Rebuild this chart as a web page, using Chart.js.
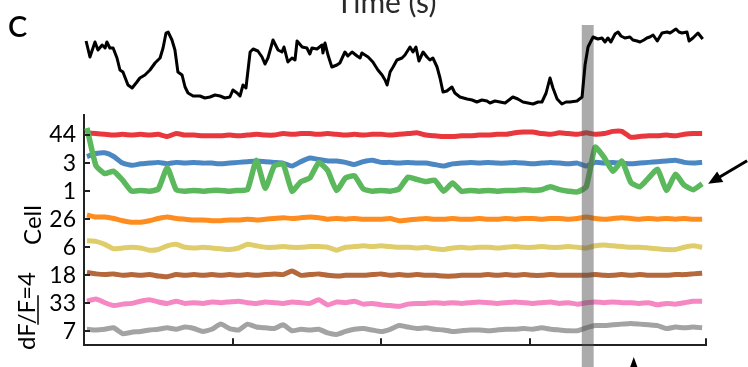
<!DOCTYPE html>
<html>
<head>
<meta charset="utf-8">
<script src="https://cdn.jsdelivr.net/npm/chart.js@4.4.1/dist/chart.umd.min.js"></script>
<style>
  html, body { margin: 0; padding: 0; background: #fff; }
  #wrap { position: relative; width: 748px; height: 367px; overflow: hidden; font-family: Lato, "Open Sans", sans-serif; }
  canvas { position: absolute; left: 0; top: 0; }
  .lbl { position: absolute; white-space: nowrap; line-height: 1; color: #000; }
  #panel { left: 8px; top: 11px; font-size: 29px; font-weight: 600; }
  #xtitle { left: 386px; top: -14px; font-size: 30px; color: #2a2a2a; transform: translateX(-50%); }
  #ytitle { left: 32px; top: 225px; font-size: 24px; transform: translate(-50%, -50%) rotate(-90deg); }
  #scaletxt { left: 26px; top: 311px; font-size: 24px; transform: translate(-50%, -50%) rotate(-90deg); }
</style>
</head>
<body>
<div id="wrap">
  <canvas id="cells" width="748" height="367"></canvas>
  <canvas id="speed" width="748" height="367"></canvas>
  <div class="lbl" id="panel">C</div>
  <div class="lbl" id="xtitle">Time (s)</div>
  <div class="lbl" id="ytitle">Cell</div>
  <div class="lbl" id="scaletxt">dF/F=4</div>
</div>
<script>
'use strict';

// top trace: sample times (s) and running speed (arbitrary units)
var speedTime = [0.7,2.0,3.7,4.7,6.1,7.1,7.7,8.7,9.8,11.1,12.1,13.1,14.8,16.2,17.8,18.8,20.5,22.2,23.9,25.6,
  26.6,27.6,28.3,29.6,30.6,31.6,33.0,34.0,35.0,36.7,39.0,40.7,42.4,44.1,45.8,47.4,49.1,50.1,51.5,52.5,
  53.5,54.5,55.9,56.9,58.5,59.9,60.9,61.9,63.6,65.3,66.6,67.3,68.6,70.0,71.0,71.7,73.4,75.0,76.0,76.7,
  78.4,80.1,80.4,81.1,82.1,83.4,85.1,86.1,87.8,88.8,90.2,91.9,92.9,93.5,95.6,97.2,98.9,100.3,101.3,102.0,
  103.0,104.0,105.3,107.0,108.0,109.7,110.7,111.7,112.7,114.1,115.4,116.4,117.4,118.8,119.8,120.8,122.1,123.8,124.8,126.5,
  128.9,130.6,132.2,133.9,135.6,136.6,138.3,140.0,141.7,144.3,146.0,147.7,149.4,151.1,152.8,154.1,155.5,156.8,157.8,159.2,
  160.8,162.2,163.5,165.9,167.6,168.6,169.6,171.3,172.9,174.3,175.3,176.3,177.3,178.7,179.7,180.7,182.0,183.7,184.7,186.1,
  187.1,188.4,189.4,190.4,191.5,192.9,194.5,196.2,197.2,198.2,199.2,200.2,201.2,202.9,203.6,204.9,206.6,208.2];
var speed = [69,53,68,60,65,62,68,62,62,52,40,38,25,22,28,32,35,40,47,52,
  62,77,78,70,60,38,35,23,17,14,14,12,13,15,14,12,13,20,17,14,
  25,22,58,61,59,53,46,52,70,60,58,63,48,52,50,69,63,62,56,62,
  61,65,57,67,55,43,45,47,58,54,58,54,52,57,53,48,40,35,30,25,
  38,43,50,52,55,63,58,63,49,58,53,50,52,43,32,18,19,23,17,13,
  11,10,8,10,9,7,9,8,7,13,11,8,7,6,8,8,17,32,22,11,
  6,8,8,9,13,45,63,73,71,72,68,72,68,76,78,74,72,73,70,69,
  68,70,72,73,75,69,77,78,77,79,81,78,77,78,69,72,77,71];

// cell traces: sample times (s)
var time = [1,4,7,10,13,16,19,22,25,28,31,34,37,40,43,46,49,52,55,58,
  61,64,67,70,73,76,79,82,85,88,91,94,97,100,103,106,109,112,115,118,
  121,124,127,130,133,136,139,142,145,148,151,154,157,160,163,166,169,172,175,178,
  181,184,187,190,193,196,199,202,205,208];

// dF/F per cell
var cell44 = [0.3,0.2,0.1,0.0,0.1,0.0,0.1,0.0,0.1,-0.2, 0.2,0.0,0.0,-0.1,-0.1,-0.1,0.0,-0.1,0.0,0.1,
  0.0,0.0,0.2,0.1,0.2,0.2,0.1,0.2,0.1,0.0, 0.1,0.0,0.1,0.1,0.0,0.1,0.2,0.3,0.0,-0.1,
  -0.2,-0.2,-0.1,-0.1,0.0,0.0,0.1,0.1,0.3,0.4, 0.4,0.2,0.1,0.3,0.2,0.1,0.3,0.1,0.2,0.5,
  0.5,-0.3,-0.2,-0.1,-0.1,0.0,-0.1,0.1,0.2,0.2];
var cell3 = [0.9,1.3,1.4,0.9,0.0,-0.3,-0.1,0.0,0.1,-0.1, 0.1,0.0,0.1,0.0,0.0,-0.1,0.0,0.1,0.2,0.3,
  0.2,0.1,0.0,-0.4,0.2,0.7,0.5,0.3,0.3,0.1, -0.2,0.2,0.4,0.1,0.1,0.0,0.1,0.0,0.0,-0.2,
  -0.4,-0.1,0.0,0.1,0.0,0.1,0.0,0.0,0.1,0.0, -0.1,0.0,0.1,0.0,-0.1,0.0,-0.4,0.1,0.0,0.1,
  0.0,-0.1,0.0,0.1,0.2,0.3,0.4,0.1,0.0,0.1];
var cell1 = [8.6,3.5,2.4,2.7,1.5,0.0,0.1,0.0,0.3,3.2, 0.2,0.0,0.1,0.0,0.1,0.1,0.0,0.1,0.2,4.2,
  0.4,3.4,3.7,0.0,1.3,1.8,3.9,2.8,0.1,1.8, 2.1,0.3,0.0,0.1,0.0,0.3,1.9,1.6,1.3,1.5,
  0.0,1.1,0.0,0.1,0.0,0.1,0.0,0.1,0.1,0.2, 0.1,0.2,0.6,0.2,0.0,-0.1,0.6,6.0,4.6,2.7,
  4.1,1.2,0.6,1.8,3.0,0.1,2.3,0.8,0.2,1.0];
var cell26 = [0.6,0.3,0.3,0.1,-0.2,-0.4,-0.4,-0.2,0.1,0.3, 0.1,0.0,-0.1,-0.1,-0.2,-0.2,-0.1,-0.1,0.0,-0.1,
  0.0,0.1,0.2,0.1,0.2,0.3,0.2,0.0,0.1,0.0, 0.1,0.0,0.0,0.0,0.1,-0.2,-0.1,0.0,0.1,0.0,
  0.0,0.1,0.0,0.0,0.1,0.0,0.0,0.1,0.0,0.1, 0.1,0.0,0.1,0.1,0.0,0.1,0.3,0.1,0.0,0.1,
  0.2,0.1,0.0,0.1,0.0,0.1,0.0,0.1,0.0,0.0];
var cell6 = [0.9,0.8,0.4,-0.2,-0.1,0.0,-0.1,-0.4,-0.3,0.2, 0.4,0.0,-0.1,0.0,-0.1,-0.2,-0.3,-0.1,0.4,0.2,
  0.0,0.0,0.1,0.0,0.0,0.1,0.1,0.0,-0.4,0.0, 0.1,0.2,0.1,0.2,0.1,0.0,0.0,-0.1,0.0,-0.2,
  -0.3,-0.1,0.0,-0.1,0.0,0.0,-0.1,0.0,0.1,0.0, 0.0,0.1,0.0,0.0,0.1,0.0,-0.1,0.2,0.3,0.2,
  0.1,0.0,0.0,-0.1,-0.2,-0.3,-0.3,0.0,0.2,0.0];
var cell18 = [0.4,0.2,0.1,0.2,0.0,0.1,0.0,0.1,-0.1,-0.2, 0.1,0.0,0.1,0.0,0.1,0.0,0.1,0.0,0.1,0.0,
  0.1,0.2,0.1,0.6,0.0,0.1,0.2,0.0,-0.1,0.0, 0.0,0.0,0.1,0.2,0.0,0.1,0.0,0.1,0.0,0.0,
  -0.1,-0.1,0.0,0.0,0.0,0.1,0.0,0.1,0.0,0.1, 0.0,0.0,0.1,0.0,0.0,0.0,0.0,0.1,0.0,0.0,
  0.1,0.0,0.1,0.0,0.0,0.0,0.1,0.1,0.2,0.3];
var cell33 = [0.3,0.6,0.1,-0.3,-0.1,0.0,0.3,0.5,0.2,0.0, 0.3,0.0,0.1,0.0,0.2,0.1,0.2,0.3,0.1,0.0,
  0.2,0.1,0.0,0.2,0.1,0.0,0.5,-0.2,0.2,0.1, 0.3,-0.1,0.0,-0.2,-0.3,-0.4,-0.1,0.0,0.0,0.1,
  0.0,0.1,0.0,0.1,0.2,0.1,0.0,0.1,0.2,0.1, 0.0,0.1,0.2,0.0,0.1,-0.1,0.1,0.2,0.1,0.2,
  0.1,0.1,0.0,0.1,-0.2,0.0,-0.1,0.1,0.3,0.3];
var cell7 = [0.3,0.2,0.3,0.5,-0.3,-0.1,0.0,0.2,0.3,0.5, 0.3,0.6,0.4,0.0,0.3,1.0,0.4,0.2,1.0,0.6,
  0.5,0.4,0.9,0.1,0.3,0.2,0.3,-0.2,-0.4,0.0, 0.3,0.4,0.2,0.0,0.3,0.8,0.6,0.4,0.5,0.3,
  0.2,0.0,0.1,0.2,0.2,0.1,0.2,0.3,0.3,0.4, 0.3,0.5,0.3,0.2,0.1,0.1,0.5,0.8,0.8,0.9,
  1.0,1.1,1.0,0.9,0.8,0.4,0.6,0.5,0.6,0.5];

// cells, top to bottom
var cellIds = ['44', '3', '1', '26', '6', '18', '33', '7'];
var traces = [cell44, cell3, cell1, cell26, cell6, cell18, cell33, cell7];
var colors = ['#e8383d', '#4b88c3', '#5cb85c', '#ff8c1f', '#dfcd6b', '#b5683c', '#f587c3', '#a3a3a3'];
var traceGap = 3.82;      // vertical spacing between cells, in dF/F
var bandStart = 167.5, bandEnd = 171.5;   // stimulus window (s)
var arrowAt = 185;        // time marked by the bottom arrow
var tMax = 209.3;

// make the top trace
new Chart(document.getElementById('speed').getContext('2d'), {
  type: 'line',
  data: {
    datasets: [{
      data: speedTime.map(function (t, i) { return { x: t, y: speed[i] }; }),
      borderColor: '#000',
      borderWidth: 3,
      pointRadius: 0,
      tension: 0,
      borderJoinStyle: 'round'
    }]
  },
  options: {
    responsive: false,
    animation: false,
    devicePixelRatio: 1,
    layout: { autoPadding: false, padding: { left: 84, right: 42, top: 25, bottom: 257 } },
    plugins: { legend: { display: false }, tooltip: { enabled: false } },
    scales: {
      x: { type: 'linear', display: false, min: 0, max: tMax },
      y: { display: false, min: 0, max: 85 }
    }
  }
});

// band, inward ticks, scale bar and arrows
var decor = {
  id: 'decor',
  afterDatasetsDraw: function (chart) {
    var ctx = chart.ctx, x = chart.scales.x;
    var x0 = x.getPixelForValue(bandStart), x1 = x.getPixelForValue(bandEnd);
    ctx.save();
    ctx.fillStyle = 'rgba(80,80,80,0.48)';
    ctx.fillRect(x0, 25, x1 - x0, chart.height - 25);
    ctx.restore();
  },
  afterDraw: function (chart) {
    var ctx = chart.ctx, x = chart.scales.x, y = chart.scales.y;
    ctx.save();
    ctx.strokeStyle = '#222';
    ctx.lineWidth = 2;
    ctx.beginPath();
    y.ticks.forEach(function (t) {
      var py = Math.round(y.getPixelForValue(t.value));
      ctx.moveTo(x.left, py); ctx.lineTo(x.left + 6, py);
    });
    x.ticks.forEach(function (t) {
      if (t.value <= 0) return;
      var px = Math.round(x.getPixelForValue(t.value));
      ctx.moveTo(px, y.bottom); ctx.lineTo(px, y.bottom - 7);
    });
    ctx.stroke();

    // dF/F scale bar
    var len = y.getPixelForValue(0) - y.getPixelForValue(4);
    ctx.strokeStyle = '#000';
    ctx.lineWidth = 1.5;
    ctx.beginPath();
    ctx.moveTo(38, 310 - len / 2); ctx.lineTo(38, 310 + len / 2);
    ctx.stroke();

    // arrow at the end of cell 1
    var last = time.length - 1;
    var tipX = x.getPixelForValue(time[last]) + 6;
    var tipY = y.getPixelForValue(cell1[last] + 5 * traceGap);
    var dx = 39, dy = -23, d = Math.sqrt(dx * dx + dy * dy);
    var ux = dx / d, uy = dy / d;
    ctx.fillStyle = '#000';
    ctx.strokeStyle = '#000';
    ctx.lineWidth = 3;
    ctx.beginPath();
    ctx.moveTo(tipX + ux * 10, tipY + uy * 10); ctx.lineTo(tipX + dx, tipY + dy);
    ctx.stroke();
    ctx.beginPath();
    ctx.moveTo(tipX, tipY);
    ctx.lineTo(tipX + ux * 14 - uy * 6, tipY + uy * 14 + ux * 6);
    ctx.lineTo(tipX + ux * 14 + uy * 6, tipY + uy * 14 - ux * 6);
    ctx.closePath();
    ctx.fill();

    // arrow below the axis
    var ax = x.getPixelForValue(arrowAt);
    ctx.beginPath();
    ctx.moveTo(ax, 357); ctx.lineTo(ax - 4, chart.height + 1); ctx.lineTo(ax + 4, chart.height + 1);
    ctx.closePath();
    ctx.fill();
    ctx.restore();
  }
};

var datasets = traces.map(function (vals, k) {
  var base = (traces.length - 1 - k) * traceGap;
  return {
    label: 'Cell ' + cellIds[k],
    data: vals.map(function (v, i) { return { x: time[i], y: v + base }; }),
    borderColor: colors[k],
    borderWidth: cellIds[k] === '1' ? 5.5 : 5,
    pointRadius: 0,
    tension: 0.15,
    borderJoinStyle: 'round',
    order: cellIds[k] === '1' ? 0 : 1
  };
});

new Chart(document.getElementById('cells').getContext('2d'), {
  type: 'line',
  data: { datasets: datasets },
  plugins: [decor],
  options: {
    responsive: false,
    animation: false,
    devicePixelRatio: 1,
    layout: { autoPadding: false, padding: { left: 0, right: 42, top: 115, bottom: 17 } },
    plugins: { legend: { display: false }, tooltip: { enabled: false } },
    scales: {
      x: {
        type: 'linear', min: 0, max: tMax,
        afterFit: function (s) { s.height = 0; },
        ticks: { display: false, stepSize: 50 },
        grid: { drawOnChartArea: false, drawTicks: false },
        border: { display: true, color: '#222', width: 2 }
      },
      y: {
        min: -1.87, max: 29.47,
        afterFit: function (s) { s.width = 84; },
        afterBuildTicks: function (s) {
          s.ticks = cellIds.map(function (_, k) { return { value: k * traceGap }; });
        },
        grid: { drawOnChartArea: false, drawTicks: false },
        border: { display: true, color: '#222', width: 2 },
        ticks: {
          autoSkip: false,
          padding: 8,
          color: '#000',
          font: { family: 'Lato', size: 23 },
          callback: function (value, index) { return cellIds[cellIds.length - 1 - index]; }
        }
      }
    }
  }
});
</script>
</body>
</html>
